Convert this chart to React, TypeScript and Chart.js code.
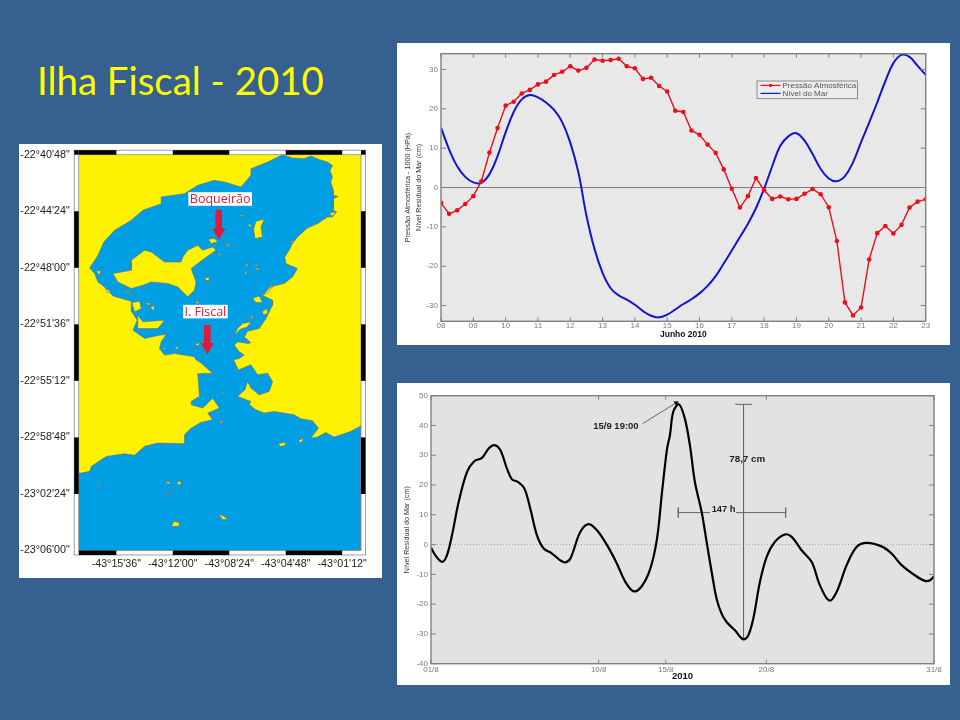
import React, { useEffect, useRef } from 'react';
import { Chart, registerables } from 'chart.js';

Chart.register(...registerables);
Chart.defaults.font.family = '"Liberation Sans", Arial, sans-serif';

// Pressure and sea level, June 2010, one reading every 6 h
const juneDays = [
  8, 8.25, 8.5, 8.75, 9, 9.25, 9.5, 9.75, 10, 10.25, 10.5, 10.75, 11, 11.25, 11.5, 11.75,
  12, 12.25, 12.5, 12.75, 13, 13.25, 13.5, 13.75, 14, 14.25, 14.5, 14.75, 15, 15.25, 15.5, 15.75,
  16, 16.25, 16.5, 16.75, 17, 17.25, 17.5, 17.75, 18, 18.25, 18.5, 18.75, 19, 19.25, 19.5, 19.75,
  20, 20.25, 20.5, 20.75, 21, 21.25, 21.5, 21.75, 22, 22.25, 22.5, 22.75, 23,
];
const pressure = [
  -3.9, -6.7, -5.8, -4.2, -2.2, 1.6, 8.9, 15.1, 20.8, 21.8, 23.9, 24.8, 26.2, 26.9, 28.6, 29.4,
  30.8, 29.7, 30.4, 32.5, 32.2, 32.4, 32.7, 30.8, 30.3, 27.6, 27.9, 25.8, 24.4, 19.5, 19.2, 14.5,
  13.4, 10.9, 8.8, 4.6, -0.3, -5.1, -2.2, 2.4, -0.7, -2.9, -2.3, -3.0, -2.9, -1.6, -0.4, -1.7,
  -5.0, -13.6, -29.2, -32.5, -30.5, -18.3, -11.6, -9.8, -11.7, -9.5, -5.1, -3.6, -3.0,
];
const seaLevel = [
  15.2, 9.7, 5.4, 2.7, 1.3, 1.2, 3.4, 8.0, 14.0, 19.2, 22.4, 23.5, 22.9, 21.6, 19.7, 16.6,
  11.4, 3.9, -7.1, -15.6, -21.7, -25.6, -27.4, -28.5, -29.8, -31.4, -32.6, -33.0, -32.3, -31.0, -29.6, -28.4,
  -26.9, -25.0, -22.5, -19.3, -16.0, -12.6, -9.2, -5.2, -0.3, 5.4, 10.6, 13.0, 13.8, 11.9, 8.5, 4.7,
  2.3, 1.6, 2.9, 6.4, 11.5, 16.5, 21.6, 27.0, 31.6, 33.7, 33.2, 30.9, 28.6,
];
const juneTicks = [8, 9, 10, 11, 12, 13, 14, 15, 16, 17, 18, 19, 20, 21, 22, 23];
const juneYTicks = [-30, -20, -10, 0, 10, 20, 30];
const juneLegend = ['Pressão Atmosférica', 'Nível do Mar'];

// Residual sea level, August 2010
const augDays = [
  1, 1.26, 1.66, 1.95, 2.25, 2.65, 3.15, 3.58, 4.04, 4.44, 4.78, 5.14, 5.53, 5.83, 6.17, 6.57, 6.92, 7.32, 7.72,
  8.22, 8.71, 9.01, 9.31, 9.91, 10.4, 10.9, 11.5, 12.09, 12.59, 13.09, 13.58, 14.08, 14.48, 14.78, 15.08, 15.25,
  15.45, 15.79, 16.14, 16.44, 16.74, 17.14, 17.44, 17.74, 18.03, 18.33, 18.63, 19.13, 19.62, 19.92, 20.22, 20.62,
  21.02, 21.51, 22.11, 22.51, 23.1, 23.7, 24.2, 24.75, 25.19, 25.79, 26.38, 26.98, 27.87, 28.47, 29.07, 29.86,
  30.46, 30.76, 31,
];
const residual = [
  -1.0, -3.6, -5.8, -3.6, 3.1, 14.3, 24.4, 28, 29.1, 32.3, 33.4, 31.7, 25.5, 21.9, 21.1, 18.8, 12.1, 3.1, -1.3,
  -3, -5.3, -6.0, -4.7, 4.3, 6.9, 4.8, -0.2, -6.4, -12.5, -15.7, -13.9, -8.1, 2, 17.7, 32.2, 36.7,
  44.6, 47.1, 42.3, 33.4, 21, 11, 0.9, -9.2, -18.1, -23.2, -26, -28.8, -31.8, -30.5, -24.9, -12.5,
  -4.1, 0.9, 3.4, 2.6, -1.9, -5.8, -13.7, -18.8, -15.9, -6.9, -0.8, 0.6, -0.6, -3, -6.9, -10.3,
  -12.2, -12, -10.6,
];
const augTicks = [1, 11, 15, 21, 31];
const augTickLabels = ['01/8', '10/8', '15/8', '20/8', '31/8'];
const augYTicks = [-40, -30, -20, -10, 0, 10, 20, 30, 40, 50];

// Map: arc-minutes east of 43°18'W and south of 22°40'48"S
const lonTicks = [2.4, 6, 9.6, 13.2, 16.8];
const lonLabels = ['-43°15\'36"', '-43°12\'00"', '-43°08\'24"', '-43°04\'48"', '-43°01\'12"'];
const latTicks = [0, 3.6, 7.2, 10.8, 14.4, 18, 21.6, 25.2];
const latLabels = ['-22°40\'48"', '-22°44\'24"', '-22°48\'00"', '-22°51\'36"', '-22°55\'12"', '-22°58\'48"', '-23°02\'24"', '-23°06\'00"'];
const lonBars = [[0, 2.4], [6, 9.6], [13.2, 16.8]];
const latBars = [[3.6, 7.2], [10.8, 14.4], [18, 21.6]];

const bay = [
  [0.7, 7.21], [1.23, 6.4], [1.61, 5.55], [2.29, 4.81], [3.35, 4.18], [4.09, 3.54], [5.26, 3.12], [5.26, 2.69],
  [6.74, 2.48], [7.59, 1.95], [8.65, 1.63], [9.29, 1.74], [10.35, 2.06], [10.98, 1.31], [10.98, 0.89], [12.04, 0.47],
  [13.0, 0], [13.63, 0.21], [14.37, 0.25], [14.8, 0.08], [15.33, 0.3], [15.86, 0.47], [16.18, 0.68], [16.03, 1.0],
  [16.18, 1.42], [16.07, 1.74], [16.24, 2.27], [16.22, 2.59], [16.54, 2.65], [16.24, 2.8], [16.24, 3.54], [16.45, 3.65],
  [16.18, 3.96], [15.86, 3.96], [15.22, 4.39], [14.59, 4.66], [13.95, 5.24], [13.63, 5.66], [13.42, 6.08], [13.14, 6.51],
  [13.21, 6.93], [13.95, 7.25], [13.63, 7.78], [13.1, 8.2], [12.47, 8.35], [12.04, 8.63], [11.72, 8.95], [12.36, 9.26],
  [12.36, 9.58], [11.94, 10.43], [11.51, 11.07], [10.77, 11.24], [10.56, 11.6], [10.98, 11.98], [10.77, 12.02], [10.13, 11.91],
  [9.92, 12.13], [10.24, 12.55], [10.56, 12.76], [10.24, 12.97], [9.88, 13.06], [10.18, 13.7], [10.98, 13.38], [11.41, 14.01],
  [12.04, 13.91], [12.36, 14.44], [12.15, 15.07], [11.51, 15.29], [10.98, 14.86], [10.77, 14.44], [10.6, 14.97], [10.13, 15.39],
  [10.98, 15.71], [10.88, 15.92], [11.3, 16.24], [11.83, 16.45], [12.47, 16.35], [13.74, 16.56], [14.16, 16.81], [14.9, 16.94],
  [15.29, 17.41], [14.8, 18.04], [15.22, 17.98], [15.75, 17.68], [16.28, 17.98], [17.34, 17.62], [18, 17.26], [18, 25.2],
  [0, 25.2], [0, 20.27], [0.17, 20.27], [0.7, 20.16], [0.81, 19.84], [1.76, 19.21], [2.93, 19.04], [3.56, 19.14],
  [4.2, 18.57], [5.05, 18.36], [6.74, 18.4], [6.74, 17.83], [7.17, 17.41], [7.8, 17.04], [8.54, 16.88], [8.23, 16.45],
  [8.97, 16.13], [8.54, 15.5], [7.91, 16.13], [7.17, 15.92], [7.17, 15.71], [7.7, 15.39], [7.59, 13.95], [8.54, 13.91],
  [7.8, 13.27], [7.48, 13.06], [7.38, 12.87], [6.11, 12.66], [5.47, 12.76], [5.15, 12.34], [5.26, 11.91], [5.58, 11.45],
  [5.15, 11.49], [4.2, 11.7], [3.46, 11.17], [3.73, 10.54], [3.39, 10.01], [3.35, 9.33], [2.18, 8.99], [1.76, 8.52],
  [1.23, 8.1], [1.02, 7.57], [0.7, 7.21],
];
const governador = [
  [4.2, 6.08], [3.35, 6.72], [3.35, 7.36], [2.18, 7.57], [2.5, 8.1], [3.35, 8.52], [4.09, 8.31], [4.62, 8.1],
  [5.68, 8.2], [6.32, 8.42], [6.95, 9.05], [7.38, 8.63], [7.48, 8.1], [7.17, 7.25], [8.01, 6.61], [8.76, 6.08],
  [8.54, 5.87], [7.91, 6.08], [7.59, 5.77], [6.95, 6.08], [6.64, 6.51], [6.53, 6.83], [5.47, 6.83], [4.62, 6.19],
];
const paqueta = [[11.3, 4.24], [11.83, 4.11], [11.62, 4.6], [11.72, 5.24], [11.24, 5.34], [11.15, 4.75]];
const fundao = [[3.77, 10.22], [4.09, 10.64], [5.47, 10.54], [5.05, 11.07], [3.77, 11.07], [3.77, 10.64]];
const smallIslands = [
  [[8.27, 5.38], [8.65, 5.34], [8.86, 5.55], [8.44, 5.66]],
  [[10.77, 4.39], [11.05, 4.5], [10.9, 4.6]],
  [[9.39, 5.7], [9.71, 5.72], [9.54, 5.81]],
  [[8.86, 6.3], [9.12, 6.34], [8.97, 6.42]],
  [[10.56, 7.0], [10.81, 6.96], [10.77, 7.1]],
  [[11.24, 6.96], [11.41, 7.08], [11.28, 7.12]],
  [[11.24, 7.25], [11.51, 7.21], [11.45, 7.36]],
  [[10.56, 7.57], [10.77, 7.36], [10.66, 7.63]],
  [[8.06, 7.84], [8.33, 7.8], [8.29, 8.01], [8.12, 8.01]],
  [[12.42, 8.23], [12.09, 8.78], [11.79, 8.9], [12.15, 8.48]],
  [[11.09, 9.16], [11.51, 8.99], [11.72, 9.41], [11.3, 9.41]],
  [[11.7, 10.0], [12.0, 9.8], [12.06, 10.1], [11.8, 10.2]],
  [[9.92, 11.49], [10.13, 11.07], [10.45, 10.75], [10.98, 10.64], [10.77, 10.96], [10.3, 11.11]],
  [[10.88, 10.43], [11.13, 10.26], [11.09, 10.43]],
  [[3.39, 9.41], [3.88, 9.33], [3.99, 9.79], [3.56, 10.01]],
  [[2.82, 8.59], [3.46, 8.9], [3.03, 8.75]],
  [[4.58, 9.69], [4.83, 9.62], [4.79, 9.96]],
  [[4.26, 9.43], [4.62, 9.48], [4.45, 9.58]],
  [[1.12, 7.42], [1.4, 7.38], [1.34, 7.67]],
  [[1.7, 8.52], [2.04, 8.69], [1.82, 8.78]],
  [[7.38, 12.08], [7.7, 11.98], [7.65, 12.17]],
  [[6.11, 12.23], [6.38, 12.25], [6.28, 12.4]],
  [[5.36, 12.27], [5.55, 12.34], [5.43, 12.44]],
  [[7.44, 9.33], [7.7, 9.37], [7.55, 9.5]],
  [[10.3, 3.86], [10.52, 3.84], [10.43, 3.94]],
  [[15.96, 3.75], [16.28, 3.65], [16.39, 3.71], [16.18, 3.9]],
  [[13.48, 5.55], [13.74, 5.47], [13.65, 5.62]],
  [[8.97, 17.13], [9.18, 16.88], [9.2, 17.04]],
  [[9.07, 15.18], [9.24, 15.12], [9.2, 15.24]],
  [[12.72, 18.4], [13.21, 18.3], [13.14, 18.51], [12.85, 18.57]],
  [[13.99, 18.21], [14.33, 18.04], [14.31, 18.21], [14.12, 18.32]],
  [[5.53, 20.8], [5.89, 20.86], [5.72, 20.97]],
  [[6.23, 20.84], [6.53, 20.8], [6.53, 21.07], [6.38, 20.99]],
  [[5.47, 21.65], [6.0, 21.43], [5.79, 21.56]],
  [[5.89, 23.66], [6.11, 23.34], [6.42, 23.45], [6.38, 23.66], [6.11, 23.66]],
  [[8.93, 22.87], [9.24, 23.02], [9.5, 23.19], [9.18, 23.24]],
  [[1.23, 21.01], [1.42, 21.03], [1.38, 21.14]],
];
const mapPlaces = [
  { name: 'Boqueirão', x: 9.02, y: 2.82, arrowX: 8.93, arrowTop: 3.5, arrowEnd: 4.93 },
  { name: 'I. Fiscal', x: 8.08, y: 9.99, arrowX: 8.2, arrowTop: 10.85, arrowEnd: 12.22 },
];

const TICK_GRAY = '#7a7a7a';
const LINE_GRAY = '#808080';
const RED = '#e8101a';
const BLUE = '#1414cc';
const MAP_BLUE = '#009ee2';
const MAP_YELLOW = '#fff200';
const MAP_RED = '#e31937';
const NO_GRID = { display: false, drawTicks: false, tickLength: 0 };

const toXY = (xs: number[], ys: number[]) => xs.map((x, i) => ({ x, y: ys[i] }));
const pairs = (list: number[][]) => list.map(([x, y]) => ({ x, y }));
const setTicks = (values: number[]) => (scale: any) => {
  scale.ticks = values.map((value) => ({ value }));
};

// grey plot area with the inward ticks on all four sides, matlab style
const plotFrame = (background: string) => ({
  id: 'plotFrame',
  beforeDatasetsDraw(chart: any) {
    const { ctx, chartArea: a } = chart;
    ctx.save();
    ctx.fillStyle = background;
    ctx.fillRect(a.left, a.top, a.width, a.height);
    ctx.restore();
  },
  afterDatasetsDraw(chart: any) {
    const { ctx, chartArea: a, scales } = chart;
    ctx.save();
    ctx.strokeStyle = LINE_GRAY;
    ctx.lineWidth = 1.4;
    ctx.strokeRect(a.left, a.top, a.width, a.height);
    ctx.lineWidth = 1;
    ctx.beginPath();
    scales.x.ticks.forEach((t: any) => {
      const px = scales.x.getPixelForValue(t.value);
      ctx.moveTo(px, a.top);
      ctx.lineTo(px, a.top + 4);
      ctx.moveTo(px, a.bottom);
      ctx.lineTo(px, a.bottom - 4);
    });
    scales.y.ticks.forEach((t: any) => {
      const py = scales.y.getPixelForValue(t.value);
      ctx.moveTo(a.left, py);
      ctx.lineTo(a.left + 5, py);
      ctx.moveTo(a.right, py);
      ctx.lineTo(a.right - 5, py);
    });
    ctx.stroke();
    ctx.restore();
  },
});

const juneLegendBox = {
  id: 'juneLegendBox',
  afterDatasetsDraw(chart: any) {
    const { ctx } = chart;
    const left = 360;
    const top = 38;
    ctx.save();
    ctx.fillStyle = '#ececec';
    ctx.strokeStyle = '#777';
    ctx.lineWidth = 0.8;
    ctx.fillRect(left, top, 100.5, 17.7);
    ctx.strokeRect(left, top, 100.5, 17.7);
    ctx.font = '8px "Liberation Sans"';
    ctx.textBaseline = 'middle';
    juneLegend.forEach((label, i) => {
      const y = top + 4.4 + i * 8;
      ctx.strokeStyle = i === 0 ? RED : BLUE;
      ctx.lineWidth = 1.2;
      ctx.beginPath();
      ctx.moveTo(left + 3.5, y);
      ctx.lineTo(left + 23.5, y);
      ctx.stroke();
      if (i === 0) {
        ctx.fillStyle = RED;
        ctx.beginPath();
        ctx.arc(left + 13.5, y, 1.7, 0, Math.PI * 2);
        ctx.fill();
      }
      ctx.fillStyle = '#555';
      ctx.fillText(label, left + 25.5, y);
    });
    ctx.restore();
  },
};

const augLabels = {
  id: 'augLabels',
  afterDatasetsDraw(chart: any) {
    const { ctx, scales } = chart;
    ctx.save();
    ctx.fillStyle = '#222';
    ctx.textAlign = 'center';
    ctx.textBaseline = 'middle';
    [
      { text: '15/9 19:00', x: 12.03, y: 39.6, size: 9.5 },
      { text: '78,7 cm', x: 19.86, y: 28.7, size: 9.8 },
      { text: '147 h', x: 18.45, y: 11.9, size: 9.3 },
    ].forEach((l) => {
      ctx.font = `bold ${l.size}px "Liberation Sans"`;
      ctx.fillText(l.text, scales.x.getPixelForValue(l.x), scales.y.getPixelForValue(l.y));
    });
    ctx.restore();
  },
};

const mapDecor = {
  id: 'mapDecor',
  beforeDatasetsDraw(chart: any) {
    const { ctx, chartArea: a } = chart;
    ctx.save();
    ctx.fillStyle = MAP_YELLOW;
    ctx.fillRect(a.left, a.top, a.width, a.height);
    ctx.restore();
  },
  afterDatasetsDraw(chart: any) {
    const { ctx, chartArea: a, scales } = chart;
    const w = 4.5;
    ctx.save();
    // white frame with the black scale bars
    ctx.fillStyle = '#fff';
    ctx.fillRect(a.left - w, a.top - w, a.width + 2 * w, w);
    ctx.fillRect(a.left - w, a.bottom, a.width + 2 * w, w);
    ctx.fillRect(a.left - w, a.top, w, a.height);
    ctx.fillRect(a.right, a.top, w, a.height);
    ctx.strokeStyle = '#888';
    ctx.lineWidth = 0.8;
    ctx.strokeRect(a.left - w, a.top - w, a.width + 2 * w, a.height + 2 * w);
    ctx.strokeRect(a.left, a.top, a.width, a.height);
    ctx.fillStyle = '#000';
    lonBars.forEach(([from, to]) => {
      const x1 = scales.x.getPixelForValue(from);
      const x2 = scales.x.getPixelForValue(to);
      ctx.fillRect(x1, a.top - w, x2 - x1, w);
      ctx.fillRect(x1, a.bottom, x2 - x1, w);
    });
    ctx.fillRect(a.left - w, a.top - w, w, w);
    ctx.fillRect(a.right, a.top - w, w, w);
    latBars.forEach(([from, to]) => {
      const y1 = scales.y.getPixelForValue(from);
      const y2 = scales.y.getPixelForValue(to);
      ctx.fillRect(a.left - w, y1, w, y2 - y1);
      ctx.fillRect(a.right, y1, w, y2 - y1);
    });
    // place names on their white boxes
    ctx.font = '12.5px "Open Sans"';
    ctx.textAlign = 'center';
    ctx.textBaseline = 'middle';
    mapPlaces.forEach((p) => {
      const px = scales.x.getPixelForValue(p.x);
      const py = scales.y.getPixelForValue(p.y);
      const tw = ctx.measureText(p.name).width;
      ctx.fillStyle = '#fff';
      ctx.fillRect(px - tw / 2 - 1.5, py - 6.8, tw + 3, 13.6);
      ctx.fillStyle = MAP_RED;
      ctx.fillText(p.name, px, py + 0.5);
    });
    ctx.restore();
  },
};

function SeaLevelChart() {
  const chartRef = useRef<HTMLCanvasElement>(null);

  useEffect(() => {
    const chart = new Chart(chartRef.current as any, {
      type: 'scatter',
      data: {
        datasets: [
          { data: toXY(juneDays, pressure), showLine: true, borderColor: RED, backgroundColor: RED, borderWidth: 1.4, pointRadius: 2.3, pointBorderWidth: 0 },
          { data: toXY(juneDays, seaLevel), showLine: true, borderColor: BLUE, borderWidth: 2, pointRadius: 0, tension: 0.4 },
          { data: pairs([[8, 0], [23, 0]]), showLine: true, borderColor: LINE_GRAY, borderWidth: 1, pointRadius: 0 },
        ],
      } as any,
      options: {
        animation: false,
        responsive: false,
        layout: { padding: { top: 10.7, right: 24.3, left: 0, bottom: 0 } },
        plugins: { legend: { display: false }, tooltip: { enabled: false } },
        scales: {
          x: {
            type: 'linear',
            min: 8,
            max: 23,
            afterBuildTicks: setTicks(juneTicks),
            afterFit: (s: any) => { s.height = 23.7; },
            grid: NO_GRID,
            border: { display: false },
            ticks: { padding: 0, color: TICK_GRAY, font: { size: 8 }, maxRotation: 0, autoSkip: false, callback: (v: any) => String(v).padStart(2, '0') },
            title: { display: true, text: 'Junho 2010', color: '#111', font: { size: 8.5, weight: 'bold' }, padding: { top: 0, bottom: 5 } },
          },
          y: {
            min: -34,
            max: 34,
            afterBuildTicks: setTicks(juneYTicks),
            afterFit: (s: any) => { s.width = 44; },
            grid: NO_GRID,
            border: { display: false },
            ticks: { padding: 3, color: TICK_GRAY, font: { size: 8 } },
            title: { display: true, text: ['Pressão Atmosférica - 1000 (HPa)', 'Nível Residual do Mar (cm)'], color: '#333', font: { size: 7.2, lineHeight: 1.5 }, padding: 6 },
          },
        },
      } as any,
      plugins: [plotFrame('#e8e8e8'), juneLegendBox],
    });
    return () => chart.destroy();
  }, []);

  return <canvas ref={chartRef} width={553} height={302} style={{ position: 'absolute', left: 397, top: 43, background: '#fff' }} />;
}

function ResidualChart() {
  const chartRef = useRef<HTMLCanvasElement>(null);

  useEffect(() => {
    const thin = { showLine: true, borderColor: '#666', borderWidth: 1, pointRadius: 0 };
    const chart = new Chart(chartRef.current as any, {
      type: 'scatter',
      data: {
        datasets: [
          { data: toXY(augDays, residual), showLine: true, borderColor: '#000', borderWidth: 2.2, pointRadius: 0, tension: 0.35 },
          { ...thin, data: pairs([[19.64, 47.1], [19.64, -31.8]]) },
          { ...thin, data: pairs([[19.14, 47.1], [20.16, 47.1]]) },
          { ...thin, data: pairs([[15.75, 10.75], [17.64, 10.75]]) },
          { ...thin, data: pairs([[19.19, 10.75], [22.15, 10.75]]) },
          { ...thin, data: pairs([[15.75, 12.4], [15.75, 9.1]]) },
          { ...thin, data: pairs([[22.15, 12.4], [22.15, 9.1]]) },
          // arrow from the date label to the peak
          { data: pairs([[13.62, 40.6], [15.62, 47.6]]), showLine: true, borderColor: '#444', backgroundColor: '#111', borderWidth: 0.8, pointStyle: 'triangle', pointRadius: [0, 3], pointRotation: 58, pointBorderWidth: 0 },
          { data: pairs([[1, 0], [31, 0]]), showLine: true, borderColor: '#9a9a9a', borderWidth: 0.8, borderDash: [1, 2], pointRadius: 0 },
        ],
      } as any,
      options: {
        animation: false,
        responsive: false,
        layout: { padding: { top: 12.7, right: 16, left: 0, bottom: 0 } },
        plugins: { legend: { display: false }, tooltip: { enabled: false } },
        scales: {
          x: {
            type: 'linear',
            min: 1,
            max: 31,
            afterBuildTicks: setTicks(augTicks),
            afterFit: (s: any) => { s.height = 21.3; },
            grid: NO_GRID,
            border: { display: false },
            ticks: { padding: 1, color: TICK_GRAY, font: { size: 8 }, maxRotation: 0, autoSkip: false, callback: (v: any) => augTickLabels[augTicks.indexOf(v)] },
            title: { display: true, text: '2010', color: '#111', font: { size: 9.5, weight: 'bold' }, padding: { top: 0, bottom: 3 } },
          },
          y: {
            min: -40,
            max: 50,
            afterBuildTicks: setTicks(augYTicks),
            afterFit: (s: any) => { s.width = 34; },
            grid: NO_GRID,
            border: { display: false },
            ticks: { padding: 3, color: TICK_GRAY, font: { size: 8 } },
            title: { display: true, text: 'Nível Residual do Mar (cm)', color: '#333', font: { size: 7.2 }, padding: 6 },
          },
        },
      } as any,
      plugins: [plotFrame('#e2e2e2'), augLabels],
    });
    return () => chart.destroy();
  }, []);

  return <canvas ref={chartRef} width={553} height={302} style={{ position: 'absolute', left: 397, top: 383, background: '#fff' }} />;
}

function BayMap() {
  const chartRef = useRef<HTMLCanvasElement>(null);

  useEffect(() => {
    const polygon = (points: number[][], color: string) => ({
      data: pairs([...points, points[0]]),
      showLine: true,
      fill: 'shape',
      backgroundColor: color,
      borderColor: '#6f6f6f',
      borderWidth: 0.6,
      pointRadius: 0,
    });
    // first dataset is painted last, so islands go before the water
    const arrows = mapPlaces.map((p) => ({
      data: pairs([[p.arrowX, p.arrowTop], [p.arrowX, p.arrowEnd]]),
      showLine: true,
      borderColor: MAP_RED,
      backgroundColor: MAP_RED,
      borderWidth: 6.5,
      borderCapStyle: 'butt',
      pointStyle: 'triangle',
      pointRadius: [0, 7.5],
      pointRotation: 180,
      pointBorderWidth: 0,
    }));
    const chart = new Chart(chartRef.current as any, {
      type: 'scatter',
      data: {
        datasets: [
          ...arrows,
          ...smallIslands.map((island) => polygon(island, MAP_YELLOW)),
          polygon(governador, MAP_YELLOW),
          polygon(paqueta, MAP_YELLOW),
          polygon(fundao, MAP_YELLOW),
          polygon(bay, MAP_BLUE),
        ],
      } as any,
      options: {
        animation: false,
        responsive: false,
        layout: { padding: { top: 10.7, right: 21, left: 0, bottom: 0 } },
        plugins: { legend: { display: false }, tooltip: { enabled: false } },
        scales: {
          x: {
            type: 'linear',
            min: 0,
            max: 18,
            afterBuildTicks: setTicks(lonTicks),
            afterFit: (s: any) => { s.height = 27.5; },
            grid: NO_GRID,
            border: { display: false },
            ticks: { padding: 7, color: '#222', font: { size: 10.7 }, maxRotation: 0, autoSkip: false, callback: (v: any) => lonLabels[lonTicks.indexOf(v)] },
          },
          y: {
            type: 'linear',
            reverse: true,
            min: 0,
            max: 25.2,
            afterBuildTicks: setTicks(latTicks),
            afterFit: (s: any) => { s.width = 59.7; },
            // tick padding also pushes the plot top down, so the gap comes from tickLength
            grid: { display: false, drawTicks: true, tickLength: 5 },
            border: { display: false },
            ticks: { padding: 4, color: '#222', font: { size: 10.7 }, autoSkip: false, callback: (v: any) => latLabels[latTicks.indexOf(v)] },
          },
        },
      } as any,
      plugins: [mapDecor],
    });
    return () => chart.destroy();
  }, []);

  return <canvas ref={chartRef} width={363} height={434} style={{ position: 'absolute', left: 19, top: 144, background: '#fff' }} />;
}

export default function App() {
  return (
    <div style={{ position: 'fixed', left: 0, top: 0, width: 960, height: 720, overflow: 'hidden', background: '#35608f' }}>
      <div style={{ position: 'absolute', left: 37, top: 57, color: '#ffff00', font: '38.4px Lato, sans-serif', whiteSpace: 'nowrap' }}>
        Ilha Fiscal - 2010
      </div>
      <BayMap />
      <SeaLevelChart />
      <ResidualChart />
    </div>
  );
}
